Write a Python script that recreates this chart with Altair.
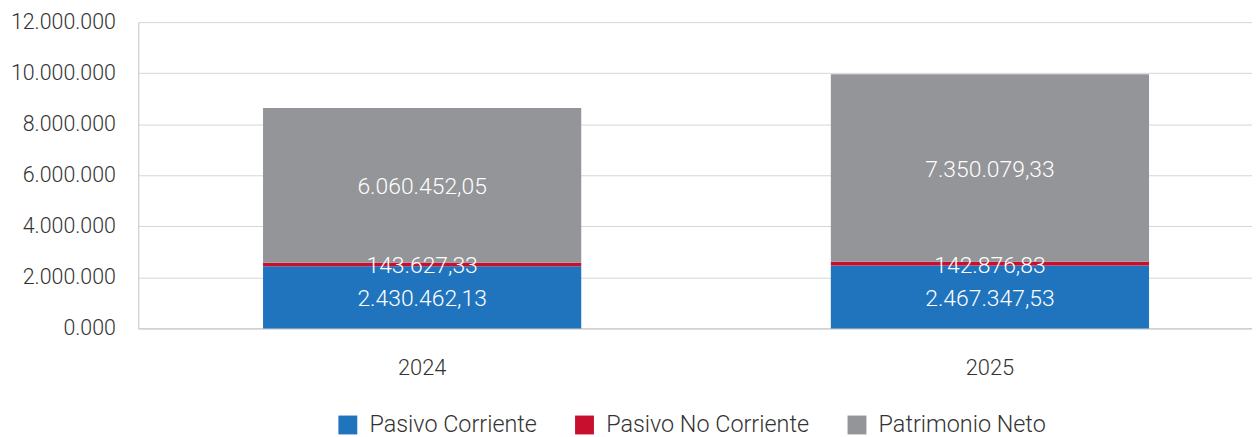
import altair as alt
import pandas as pd

years = ["2024", "2025"]
series = ["Pasivo Corriente", "Pasivo No Corriente", "Patrimonio Neto"]
colors = ["#1F74BD", "#C8102E", "#939598"]
pasivo_corriente = [2430462.13, 2467347.53]
pasivo_no_corriente = [143627.33, 142876.83]
patrimonio_neto = [6060452.05, 7350079.33]
y_ticks = [0, 2000000, 4000000, 6000000, 8000000, 10000000, 12000000]
y_tick_labels = ["0.000", "2.000.000", "4.000.000", "6.000.000", "8.000.000", "10.000.000", "12.000.000"]


def es_fmt(v):
    s = f"{v:,.2f}"
    return s.replace(",", "X").replace(".", ",").replace("X", ".")


rows = []
for si, (name, vals) in enumerate(zip(series, [pasivo_corriente, pasivo_no_corriente, patrimonio_neto])):
    for yr, v in zip(years, vals):
        rows.append({"year": yr, "serie": name, "valor": v, "orden": si, "label": es_fmt(v)})
df = pd.DataFrame(rows)

FONT = "Roboto"
label_expr = "[" + ",".join(f"'{t}'" for t in y_tick_labels) + "][round(datum.value/2000000)]"

base = alt.Chart(df)

xscale = alt.Scale(paddingInner=0.0769, paddingOuter=0.0192, align=1)

bars = base.mark_bar(size=320).encode(
    x=alt.X("year:N", scale=xscale,
            axis=alt.Axis(title=None, labelAngle=0, ticks=False, domainColor="#c4c4c4",
                          labelPadding=29, labelFontSize=22, labelColor="#333333",
                          labelFont=FONT, labelFontWeight=300)),
    y=alt.Y("valor:Q", stack="zero",
            scale=alt.Scale(domain=[0, 12000000], nice=False),
            axis=alt.Axis(title=None, values=y_ticks, labelExpr=label_expr, ticks=False,
                          domainColor="#c4c4c4", gridColor="#d6d6d6", labelPadding=23,
                          labelFontSize=21.5, labelColor="#333333", labelFont=FONT,
                          labelFontWeight=300)),
    color=alt.Color("serie:N", sort=series,
                    scale=alt.Scale(domain=series, range=colors),
                    legend=alt.Legend(title=None, orient="none", direction="horizontal",
                                      legendX=199, legendY=393, symbolType="square",
                                      symbolSize=360, symbolStrokeWidth=0, labelFontSize=23.5,
                                      labelFont=FONT, labelFontWeight=300, labelColor="#333333",
                                      labelOffset=10, columnPadding=36, labelLimit=400,
                                      padding=0, symbolOpacity=1)),
    order=alt.Order("orden:Q"),
)

texts = base.transform_stack(
    stack="valor", groupby=["year"], as_=["v0", "v1"], sort=[alt.SortField("orden")]
).transform_calculate(
    mid="(datum.v0 + datum.v1) / 2"
).mark_text(color="white", fontSize=23, font=FONT, fontWeight=300, baseline="middle", dy=2).encode(
    x=alt.X("year:N", scale=xscale),
    y=alt.Y("mid:Q"),
    text="label:N",
)

chart = alt.layer(bars, texts).properties(
    width=1120, height=308,
    padding={"left": 2, "top": 2, "right": 0, "bottom": 0},
).configure_view(stroke=None)

chart.save("out.html", embed_options={"renderer": "svg", "actions": False})
